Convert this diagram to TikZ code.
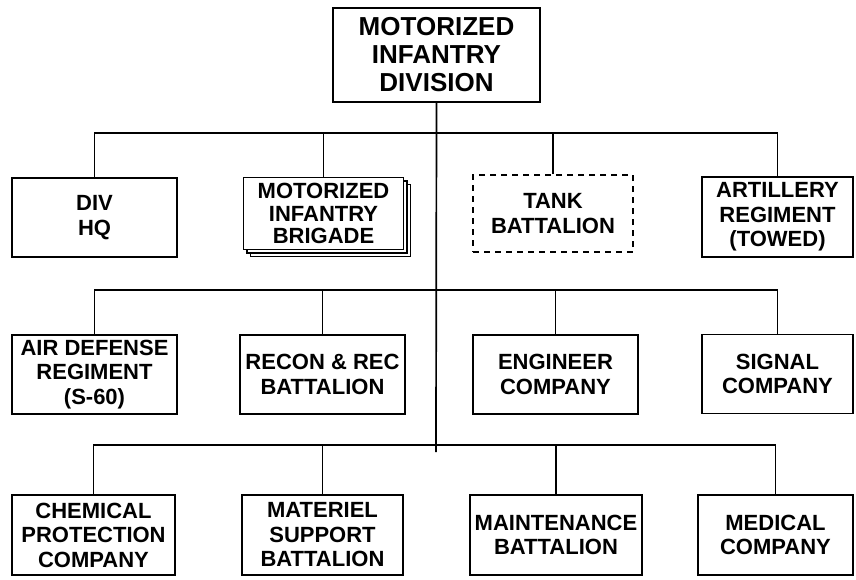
\documentclass[tikz,border=0pt]{standalone}
\usepackage{fontspec}
\setmainfont{Liberation Sans}
\usetikzlibrary{shadows}

\begin{document}
\begin{tikzpicture}[
  x=1pt, y=-1pt,
  unit/.style={draw, line width=1.7pt, fill=white, align=center, inner sep=0pt,
    font=\fontsize{22}{24.5}\selectfont\bfseries},
  line/.style={line width=1.7pt},
  stacked/.style={double copy shadow={shadow xshift=3.5pt, shadow yshift=-3.5pt,
    draw=black, fill=white, line width=1.3pt}},
  dashbox/.style={dash pattern=on 6pt off 5pt}
]
\useasboundingbox (0,0) rectangle (856,579);
% top
\node[unit, minimum width=207pt, minimum height=94pt,
  font=\fontsize{26}{28}\selectfont\bfseries] (mid) at (436.5,55) {MOTORIZED\\INFANTRY\\DIVISION};
% first row
\node[unit, minimum width=165pt, minimum height=79pt] (hq) at (94.5,217.5) {DIV\\HQ};
\node[unit, stacked, minimum width=160pt, minimum height=72pt,
  font=\fontsize{22}{22.5}\selectfont\bfseries] (mib) at (323.5,213.5) {MOTORIZED\\INFANTRY\\BRIGADE};
\node[unit, dashbox, minimum width=160pt, minimum height=77pt] (tank) at (553,213.5) {TANK\\BATTALION};
\node[unit, minimum width=151pt, minimum height=80pt] (art) at (777.5,217) {ARTILLERY\\REGIMENT\\(TOWED)};
% second row
\node[unit, minimum width=165pt, minimum height=79pt] (ad) at (94.5,374.5) {AIR DEFENSE\\REGIMENT\\(S-60)};
\node[unit, minimum width=165pt, minimum height=79pt] (rec) at (322.5,374.5) {RECON \& REC\\BATTALION};
\node[unit, minimum width=165pt, minimum height=79pt] (eng) at (555.5,374.5) {ENGINEER\\COMPANY};
\node[unit, minimum width=151pt, minimum height=79pt] (sig) at (777.5,374) {SIGNAL\\COMPANY};
% third row
\node[unit, minimum width=163pt, minimum height=80pt] (chem) at (93.5,535) {CHEMICAL\\PROTECTION\\COMPANY};
\node[unit, minimum width=161pt, minimum height=80pt] (mat) at (322.5,535) {MATERIEL\\SUPPORT\\BATTALION};
\node[unit, minimum width=172pt, minimum height=80pt] (mnt) at (556,535) {MAINTENANCE\\BATTALION};
\node[unit, minimum width=155pt, minimum height=80pt] (med) at (775.5,535) {MEDICAL\\COMPANY};
% spine and buses
\coordinate (j1) at (436,133);
\coordinate (j2) at (436,290);
\coordinate (j3) at (436,445);
\coordinate (end) at (436,452);
\draw[line] (mid.south) -- (end);
\draw[line] (hq.north) |- (j1) -| (art.north);
\draw[line] (mib.north) -- (mib.north |- j1);
\draw[line] (tank.north) -- (tank.north |- j1);
\draw[line] (ad.north) |- (j2) -| (sig.north);
\draw[line] (rec.north) -- (rec.north |- j2);
\draw[line] (eng.north) -- (eng.north |- j2);
\draw[line] (chem.north) |- (j3) -| (med.north);
\draw[line] (mat.north) -- (mat.north |- j3);
\draw[line] (mnt.north) -- (mnt.north |- j3);
\end{tikzpicture}
\end{document}
